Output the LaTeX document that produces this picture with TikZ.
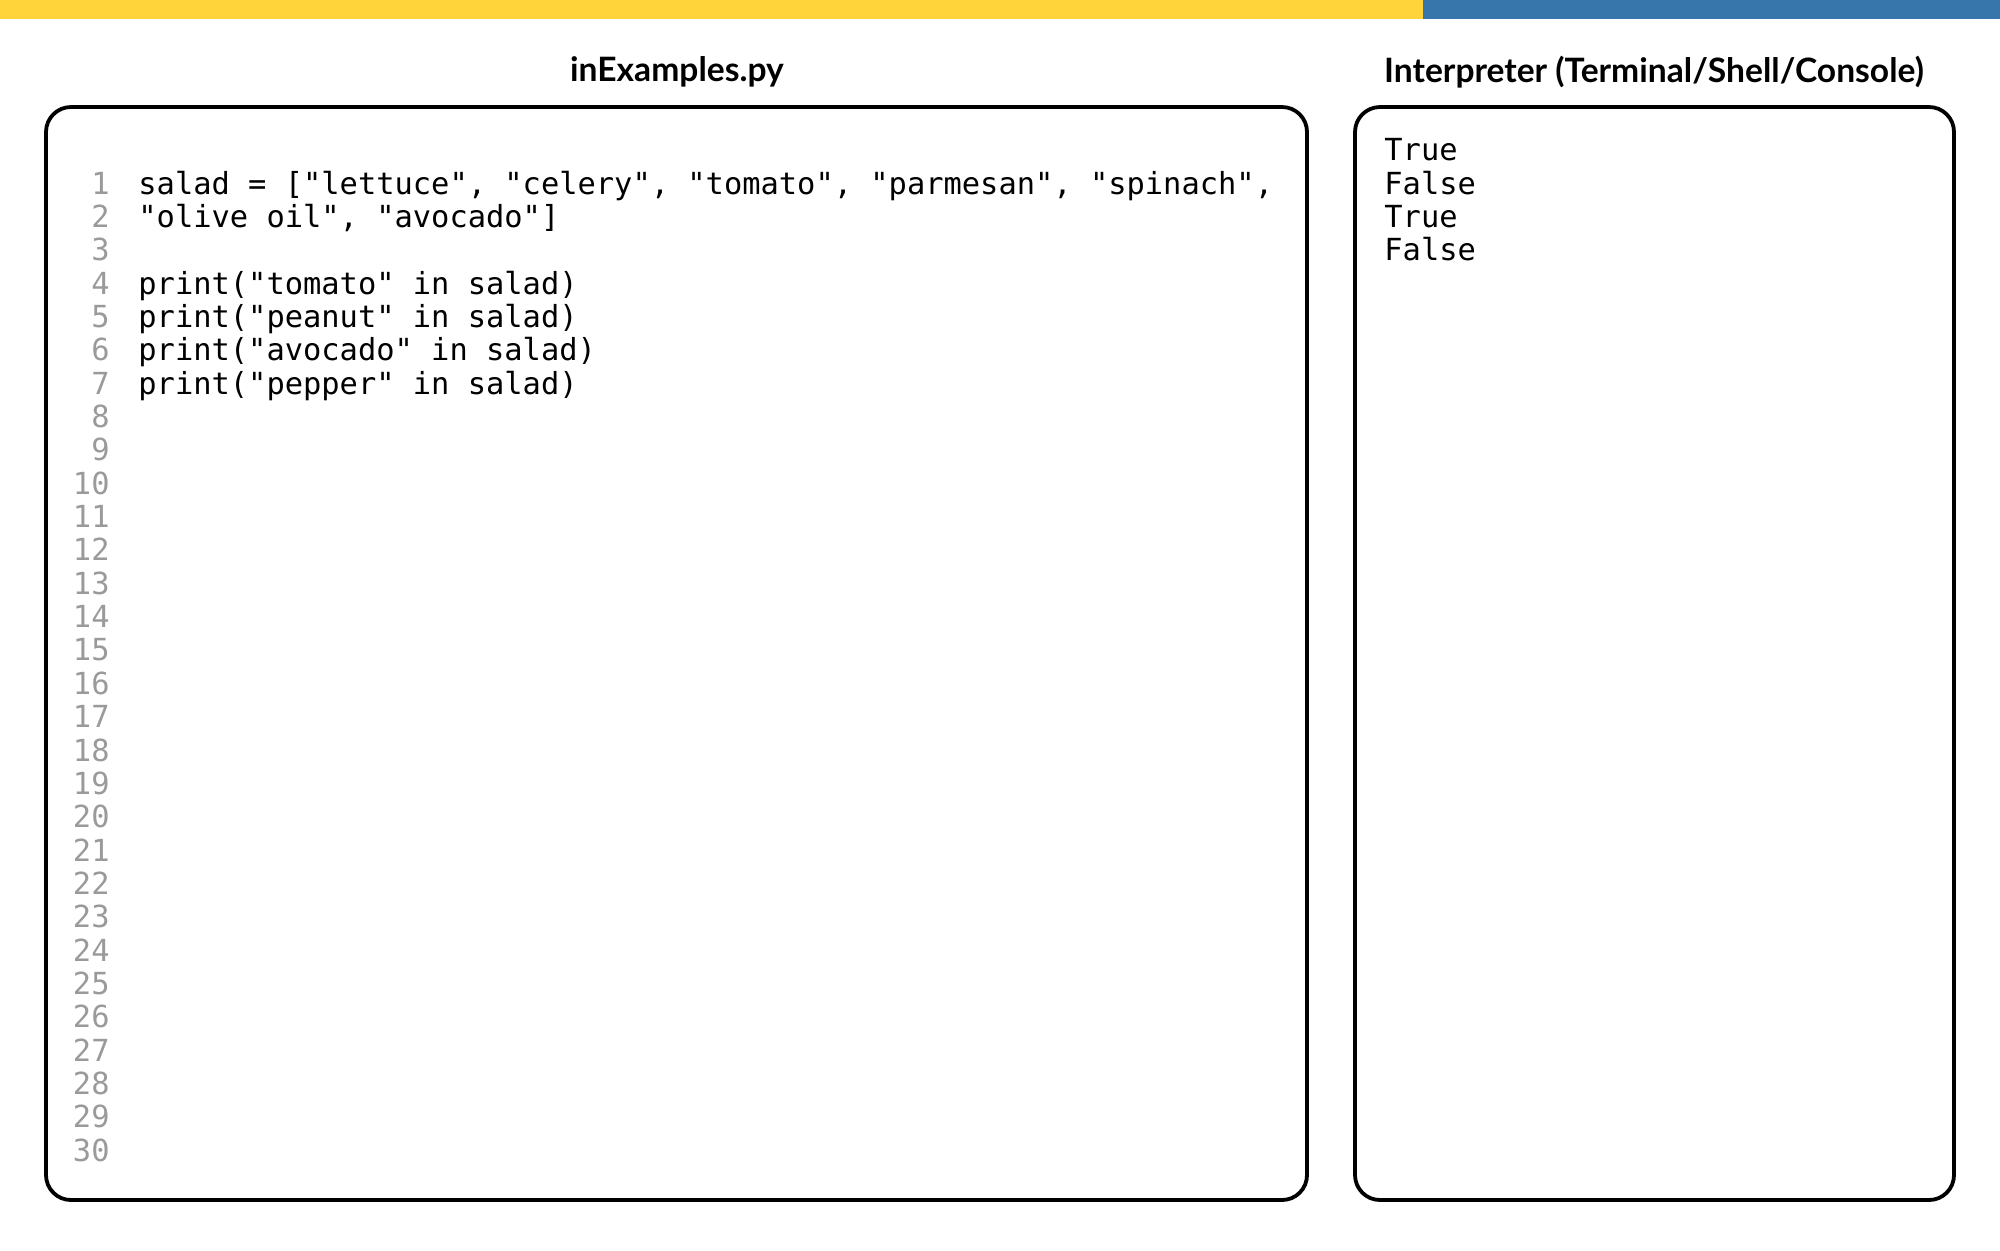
\documentclass[tikz,border=0pt]{standalone}
\usepackage{fontspec}
\setmainfont{Lato}
\setsansfont{Lato}
\setmonofont{DejaVu Sans Mono}
\usepackage{xcolor}
\usepackage{tikz}

\definecolor{pyyellow}{HTML}{FFD43B}
\definecolor{pyblue}{HTML}{3776AB}
\definecolor{lnogray}{HTML}{9A9A9A}

\begin{document}
\begin{tikzpicture}[x=0.5pt,y=-0.5pt,
    panel/.style={line width=1.9pt,rounded corners=12.5pt},
    title/.style={font=\fontsize{16.8}{19}\selectfont\bfseries},
    code/.style={font=\fontsize{15.2}{16.7}\selectfont\ttfamily,inner sep=0pt,anchor=mid west},
    lineno/.style={code,anchor=mid east,text=lnogray}]
  \useasboundingbox (0,0) rectangle (2000,1250);

  % 上部の帯
  \fill [pyyellow] (0,0) rectangle (1423,19);
  \fill [pyblue] (1423,0) rectangle (2000,19);

  % 見出し
  \node [title] (edtitle) at (677,72) {inExamples.py};
  \node [title] (shtitle) at (1654,72) {Interpreter (Terminal/Shell/Console)};

  % 枠
  \draw [panel] (46,107) rectangle (1307,1200);
  \draw [panel] (1355,107) rectangle (1954,1200);

  % 行番号
  \foreach \n in {1,...,30}
    \node [lineno] (no\n) at (110,{189+33.35*(\n-1)}) {\n};

  % ソースコード
  \node [code] (src1) at (138,189) {salad = ["lettuce", "celery", "tomato", "parmesan", "spinach",};
  \node [code] (src2) at (138,222.35) {"olive oil", "avocado"]};
  \node [code] (src4) at (138,289.05) {print("tomato" in salad)};
  \node [code] (src5) at (138,322.4) {print("peanut" in salad)};
  \node [code] (src6) at (138,355.75) {print("avocado" in salad)};
  \node [code] (src7) at (138,389.1) {print("pepper" in salad)};

  % 出力
  \node [code] (out1) at (1384,155.65) {True};
  \node [code] (out2) at (1384,189) {False};
  \node [code] (out3) at (1384,222.35) {True};
  \node [code] (out4) at (1384,255.7) {False};
\end{tikzpicture}
\end{document}
